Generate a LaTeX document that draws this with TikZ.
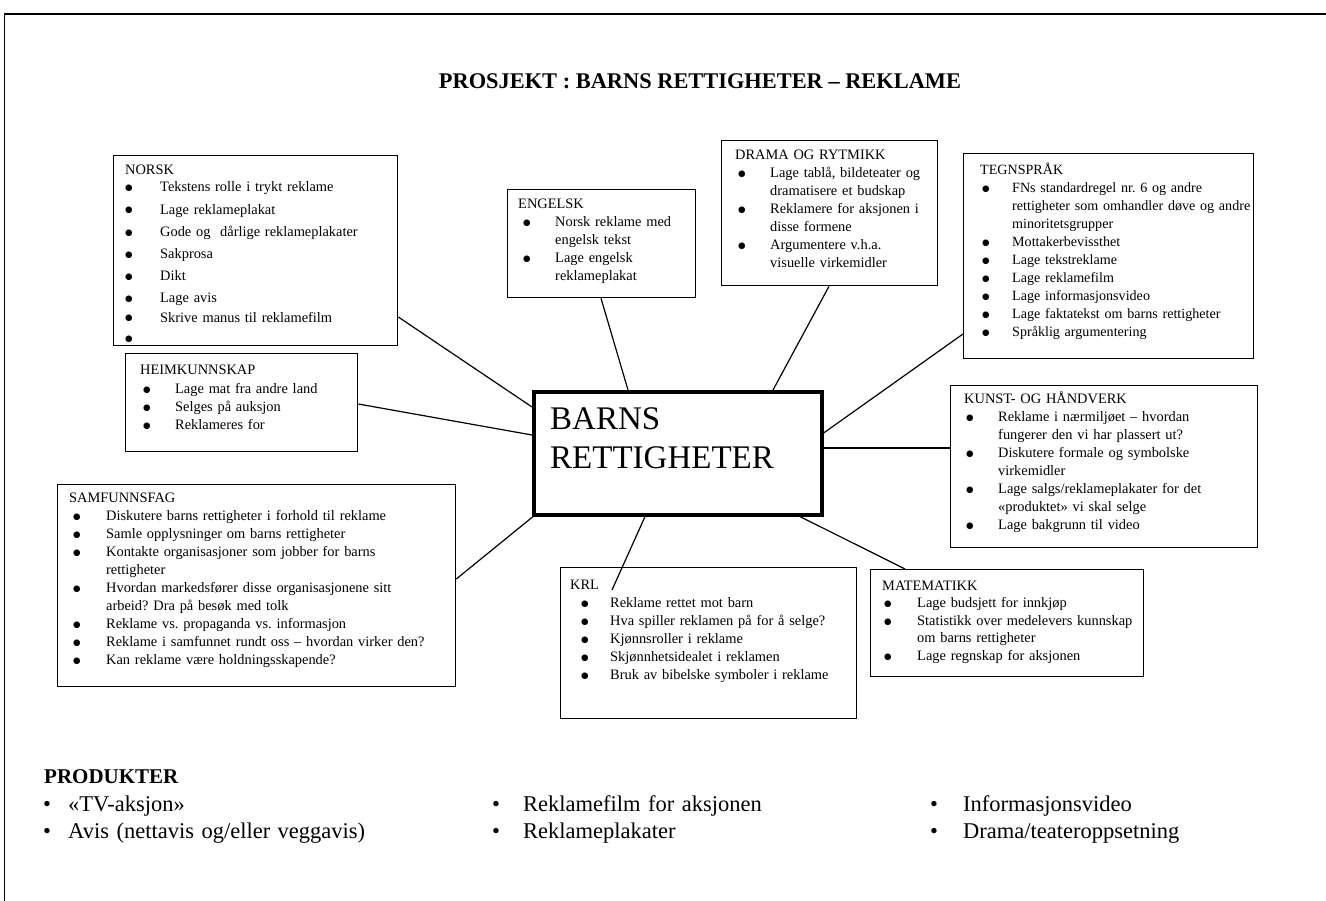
\documentclass[tikz,border=0pt]{standalone}
\usepackage{fontspec}
\setmainfont{Liberation Serif}
\newfontfamily\dvfont{DejaVu Sans}
\usetikzlibrary{calc}
\frenchspacing
\newlength\bo
\newlength\bw
\newcommand\bul{\raisebox{1.2pt}{\dvfont\fontsize{8.6}{10}\selectfont ●}}
\newcommand\bi[1]{\makebox[\bw][l]{\hspace*{\bo}\bul}#1}
\newcommand\pbi[1]{\makebox[\bw][l]{\hspace*{\bo}\textbullet}#1}
\newcommand\ci[1]{\hspace*{\bw}#1}
\newcommand\setb[2]{\setlength\bo{#1pt}\setlength\bw{#2pt}\strut}
\begin{document}
\begin{tikzpicture}[x=1pt,y=-1pt,
  box/.style={draw, line width=1.3pt, inner sep=0pt, anchor=north west},
  txt/.style={anchor=north west, inner sep=0pt, text width=420pt, align=left,
    font=\fontsize{14.4}{18}\selectfont\frenchspacing},
  ptxt/.style={anchor=north west, inner sep=0pt, text width=420pt, align=left,
    font=\fontsize{22.5}{27}\selectfont},
  con/.style={line width=1.2pt}]
\useasboundingbox (0,0) rectangle (1326,901);
% frame
\draw[line width=1pt] (4,901) -- (4,14);
\draw[line width=1.8pt] (4,14) -- (1326,14);
% title
\node[anchor=base, inner sep=0pt, font=\fontsize{22.4}{26}\selectfont\bfseries] (title) at (700,89)
  {PROSJEKT : BARNS RETTIGHETER -- REKLAME};

% boxes
\node[box, minimum width=284pt, minimum height=190pt] (norsk) at (113,155) {};
\node[box, minimum width=188pt, minimum height=108pt] (engelsk) at (507,189) {};
\node[box, minimum width=216pt, minimum height=145pt] (drama) at (721,140) {};
\node[box, minimum width=290pt, minimum height=205pt] (tegn) at (963,153) {};
\node[box, minimum width=232pt, minimum height=98pt] (heim) at (125,353) {};
\node[box, minimum width=307pt, minimum height=162pt] (kunst) at (950,385) {};
\node[box, minimum width=398pt, minimum height=202pt] (samf) at (57,484) {};
\node[box, minimum width=296pt, minimum height=151pt] (krl) at (560,567) {};
\node[box, minimum width=273pt, minimum height=107pt] (mate) at (870,569) {};
\node[draw, line width=3.6pt, inner sep=0pt, anchor=north west,
  minimum width=288pt, minimum height=123pt] (center) at (532,390) {};

% texts
\node[txt, font=\fontsize{14.4}{22.2}\selectfont] (norskT) at (125,159) {\setb{0}{35}NORSK\\[-5pt]
\bi{Tekstens rolle i trykt reklame}\\
\bi{Lage reklameplakat}\\
\bi{Gode og\ \ dårlige reklameplakater}\\
\bi{Sakprosa}\\
\bi{Dikt}\\
\bi{Lage avis}\\[-3pt]
\bi{Skrive manus til reklamefilm}\\[-2pt]
\bi{}};

\node[txt] (engelskT) at (518,196) {\setb{5}{37}ENGELSK\\
\bi{Norsk reklame med}\\
\ci{engelsk tekst}\\
\bi{Lage engelsk}\\
\ci{reklameplakat}};

\node[txt] (dramaT) at (735,147) {\setb{3}{35}DRAMA OG RYTMIKK\\
\bi{Lage tablå, bildeteater og}\\
\ci{dramatisere et budskap}\\
\bi{Reklamere for aksjonen i}\\
\ci{disse formene}\\
\bi{Argumentere v.h.a.}\\
\ci{visuelle virkemidler}};

\node[txt, font=\fontsize{14.1}{18}\selectfont] (tegnT) at (980,162) {\setb{2}{32}TEGNSPRÅK\\
\bi{FNs standardregel nr. 6 og andre}\\
\ci{rettigheter som omhandler døve og andre}\\
\ci{minoritetsgrupper}\\
\bi{Mottakerbevissthet}\\
\bi{Lage tekstreklame}\\
\bi{Lage reklamefilm}\\
\bi{Lage informasjonsvideo}\\
\bi{Lage faktatekst om barns rettigheter}\\
\bi{Språklig argumentering}};

\node[txt] (heimT) at (140,362) {\setb{3}{35}HEIMKUNNSKAP\\[1pt]
\bi{Lage mat fra andre land}\\
\bi{Selges på auksjon}\\
\bi{Reklameres for}};

\node[txt] (kunstT) at (964,391) {\setb{2}{34}KUNST- OG HÅNDVERK\\
\bi{Reklame i nærmiljøet -- hvordan}\\
\ci{fungerer den vi har plassert ut?}\\
\bi{Diskutere formale og symbolske}\\
\ci{virkemidler}\\
\bi{Lage salgs/reklameplakater for det}\\
\ci{«produktet» vi skal selge}\\
\bi{Lage bakgrunn til video}};

\node[txt] (samfT) at (69,490) {\setb{4}{37}SAMFUNNSFAG\\
\bi{Diskutere barns rettigheter i forhold til reklame}\\
\bi{Samle opplysninger om barns rettigheter}\\
\bi{Kontakte organisasjoner som jobber for barns}\\
\ci{rettigheter}\\
\bi{Hvordan markedsfører disse organisasjonene sitt}\\
\ci{arbeid? Dra på besøk med tolk}\\
\bi{Reklame vs. propaganda vs. informasjon}\\
\bi{Reklame i samfunnet rundt oss -- hvordan virker den?}\\
\bi{Kan reklame være holdningsskapende?}};

\node[txt] (krlT) at (570,577) {\setb{11}{40}KRL\\
\bi{Reklame rettet mot barn}\\
\bi{Hva spiller reklamen på for å selge?}\\
\bi{Kjønnsroller i reklame}\\
\bi{Skjønnhetsidealet i reklamen}\\
\bi{Bruk av bibelske symboler i reklame}};

\node[txt, font=\fontsize{14.4}{17.5}\selectfont] (mateT) at (882,578) {\setb{2}{35}MATEMATIKK\\
\bi{Lage budsjett for innkjøp}\\
\bi{Statistikk over medelevers kunnskap}\\
\ci{om barns rettigheter}\\
\bi{Lage regnskap for aksjonen}};

\node[anchor=north west, inner sep=0pt, text width=280pt, align=left,
  font=\fontsize{33}{39}\selectfont] (centerT) at (550,402) {\strut BARNS\\RETTIGHETER};

% products
\node[anchor=base west, inner sep=0pt, font=\fontsize{21}{24}\selectfont\bfseries] (prod) at (44,783) {PRODUKTER};
\node[ptxt] (p1) at (44,792) {\setb{-1}{24}\pbi{«TV-aksjon»}\\\pbi{Avis (nettavis og/eller veggavis)}};
\node[ptxt] (p2) at (493,792) {\setb{-1}{30}\pbi{Reklamefilm for aksjonen}\\\pbi{Reklameplakater}};
\node[ptxt] (p3) at (931,792) {\setb{-1}{32}\pbi{Informasjonsvideo}\\\pbi{Drama/teateroppsetning}};

% connectors
\draw[con] ($(norsk.north east)+(0,162)$) -- ($(center.north west)+(0,17)$);
\draw[con] ($(heim.north east)+(0,51)$) -- ($(center.north west)+(0,45)$);
\draw[con] ($(samf.north east)+(0,95)$) -- ($(center.south west)+(1,0)$);
\draw[con] ($(engelsk.south west)+(94,0)$) -- ($(center.north west)+(96,0)$);
\draw[con] ($(drama.south west)+(108,0)$) -- ($(center.north west)+(241,0)$);
\draw[con] ($(tegn.north west)+(0,181)$) -- ($(center.north east)+(0,43)$);
\draw[con] ($(center.north east)+(0,58)$) -- ($(kunst.north west)+(0,63)$);
\draw[con] ($(center.south west)+(113,0)$) -- ($(krl.north west)+(52,23)$);
\draw[con] ($(center.south west)+(268,0)$) -- ($(mate.north west)+(35,0)$);
\end{tikzpicture}
\end{document}
